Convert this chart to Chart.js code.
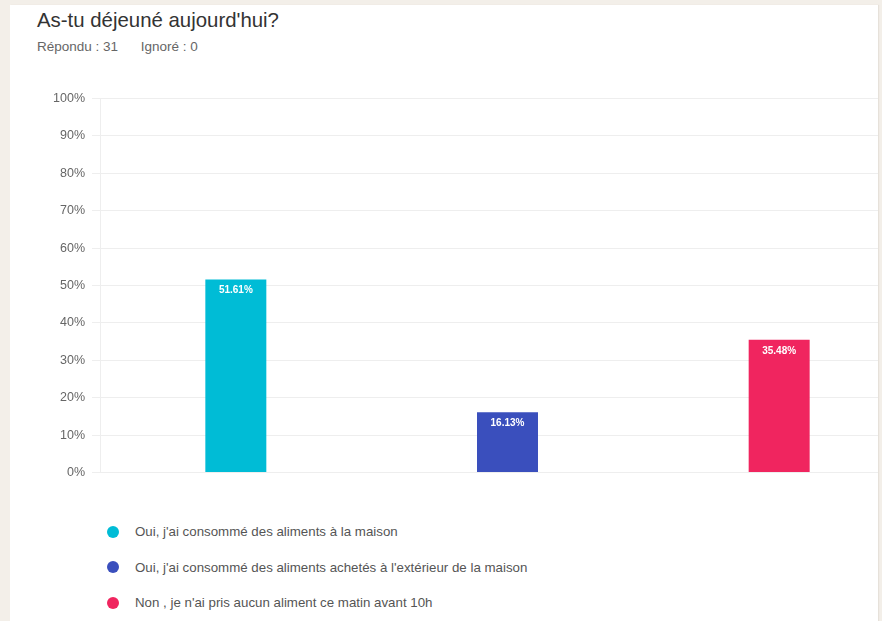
<!DOCTYPE html>
<html>
<head>
<meta charset="utf-8">
<script src="https://cdn.jsdelivr.net/npm/chart.js@4/dist/chart.umd.min.js"></script>
<style>
  body { margin: 0; background: #f3efe9; font-family: "Liberation Sans", Arial, sans-serif; }
  #panel { position: absolute; left: 10px; top: 5px; width: 868px; height: 616px; background: #fff; overflow: hidden; box-shadow: 1px 0 1px #e6e1da; }
  #title { position: absolute; left: 27px; top: 4px; font-size: 20.4px; color: #333; }
  #sub { position: absolute; left: 27px; top: 34px; font-size: 13.5px; color: #666; }
  #sub span { margin-right: 19px; }
  #wrap { position: absolute; left: 30px; top: 79px; width: 875px; height: 403px; }
  #legend { position: absolute; left: 97px; top: 509px; font-size: 13.3px; color: #555; }
  .item { height: 35.5px; display: flex; align-items: center; }
  .dot { width: 12px; height: 12px; border-radius: 50%; margin-right: 16px; }
</style>
</head>
<body>
<div id="panel">
  <div id="title">As-tu déjeuné aujourd'hui?</div>
  <div id="sub"><span>Répondu : 31</span> Ignoré : 0</div>
  <div id="wrap"><canvas id="c"></canvas></div>
  <div id="legend"></div>
</div>
<script>
const categories = [
  "Oui, j'ai consommé des aliments à la maison",
  "Oui, j'ai consommé des aliments achetés à l'extérieur de la maison",
  "Non , je n'ai pris aucun aliment ce matin avant 10h"
];
const values = [51.61, 16.13, 35.48];
const colors = ['#00bcd6', '#3a4fbd', '#f0255f'];
const yTicks = [0, 10, 20, 30, 40, 50, 60, 70, 80, 90, 100];

const labelPlugin = {
  id: 'barLabels',
  afterDatasetsDraw(chart) {
    const ctx = chart.ctx;
    const meta = chart.getDatasetMeta(0);
    ctx.save();
    ctx.fillStyle = '#fff';
    ctx.font = 'bold 10px "Liberation Sans", Arial, sans-serif';
    ctx.textAlign = 'center';
    ctx.textBaseline = 'middle';
    meta.data.forEach((bar, i) => {
      ctx.fillText(values[i].toFixed(2) + '%', bar.x, bar.y + 11);
    });
    ctx.restore();
  }
};

new Chart(document.getElementById('c'), {
  type: 'bar',
  data: {
    labels: categories,
    datasets: [{
      data: values,
      backgroundColor: colors,
      categoryPercentage: 1,
      barPercentage: 0.2245
    }]
  },
  options: {
    responsive: true,
    maintainAspectRatio: false,
    animation: false,
    layout: { padding: { top: 8, bottom: 0, left: 0, right: 0 } },
    plugins: { legend: { display: false }, tooltip: { enabled: false } },
    scales: {
      x: { display: false },
      y: {
        min: 0, max: 100,
        afterFit(scale) { scale.width = 60; },
        afterBuildTicks(scale) { scale.ticks = yTicks.map(v => ({ value: v })); },
        ticks: {
          padding: 7,
          color: '#666',
          font: { size: 12.5, family: '"Liberation Sans", Arial, sans-serif' },
          callback: v => v + '%'
        },
        grid: { color: '#eeeeee', tickLength: 8 },
        border: { color: '#eeeeee' }
      }
    }
  },
  plugins: [labelPlugin]
});

const legend = document.getElementById('legend');
categories.forEach((c, i) => {
  const row = document.createElement('div');
  row.className = 'item';
  row.innerHTML = '<div class="dot" style="background:' + colors[i] + '"></div><div></div>';
  row.lastChild.textContent = c;
  legend.appendChild(row);
});
</script>
</body>
</html>
